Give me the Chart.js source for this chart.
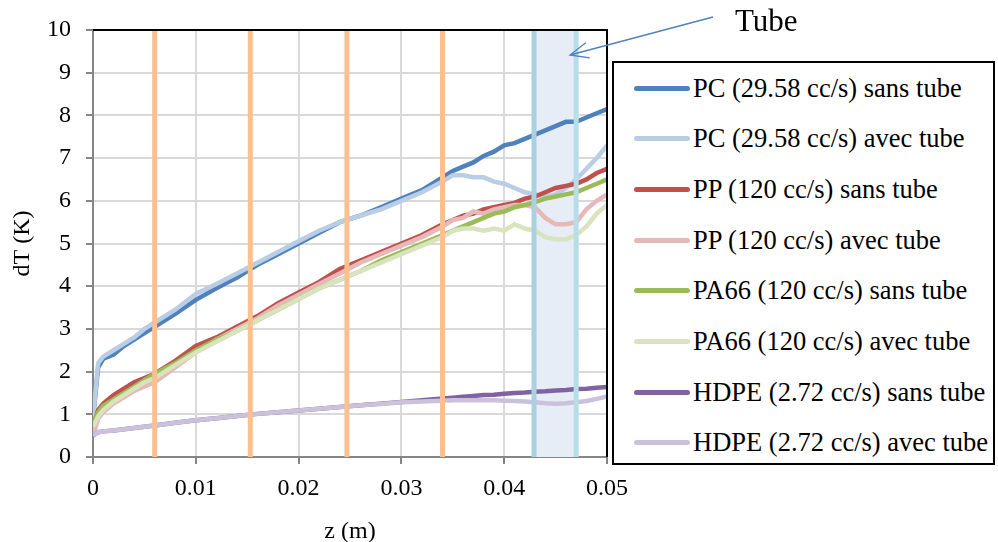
<!DOCTYPE html>
<html>
<head>
<meta charset="utf-8">
<script src="https://cdn.jsdelivr.net/npm/chart.js@4.4.1/dist/chart.umd.min.js"></script>
<style>
  html, body { margin: 0; padding: 0; background: #fff; }
  #wrap { position: relative; width: 998px; height: 542px; }
  #legend {
    position: absolute; left: 612px; top: 61px; width: 383px; height: 404px;
    border: 2px solid #000; box-sizing: border-box; background: #fff;
    font-family: "Liberation Serif", "Times New Roman", serif; font-size: 26.5px; color: #000;
  }
  .item { position: absolute; left: 20px; height: 32px; display: flex; align-items: center; white-space: nowrap; }
  .swatch { width: 56px; height: 5px; border-radius: 2.5px; margin-right: 3px; }
</style>
</head>
<body>
<div id="wrap">
  <canvas id="c" width="998" height="542"></canvas>
  <div id="legend"></div>
</div>
<script>
const zValues = [0, 0.0005, 0.001, 0.002, 0.003, 0.004, 0.005, 0.006, 0.008, 0.010, 0.012, 0.014, 0.016, 0.018, 0.020,
  0.022, 0.024, 0.026, 0.028, 0.030, 0.032, 0.034, 0.035, 0.036, 0.037, 0.038, 0.039, 0.040, 0.041, 0.042, 0.043,
  0.044, 0.045, 0.046, 0.047, 0.048, 0.049, 0.050];

const pcSans = [0.9, 2.1, 2.3, 2.4, 2.6, 2.75, 2.9, 3.05, 3.35, 3.68, 3.95, 4.2, 4.5, 4.75, 5.0,
  5.25, 5.5, 5.65, 5.85, 6.05, 6.25, 6.55, 6.7, 6.8, 6.9, 7.05, 7.15, 7.3, 7.35, 7.45, 7.55,
  7.65, 7.75, 7.85, 7.85, 7.95, 8.05, 8.15];
const pcAvec = [0.9, 2.2, 2.35, 2.5, 2.65, 2.8, 3.0, 3.15, 3.45, 3.82, 4.05, 4.3, 4.55, 4.8, 5.05,
  5.3, 5.5, 5.65, 5.8, 6.0, 6.2, 6.45, 6.6, 6.6, 6.55, 6.55, 6.45, 6.4, 6.3, 6.2, 6.15,
  6.1, 6.15, 6.3, 6.5, 6.75, 7.0, 7.3];
const ppSans = [0.7, 1.1, 1.25, 1.45, 1.6, 1.75, 1.85, 1.95, 2.25, 2.6, 2.8, 3.05, 3.3, 3.6, 3.85,
  4.1, 4.4, 4.6, 4.8, 5.0, 5.2, 5.45, 5.55, 5.65, 5.7, 5.8, 5.85, 5.9, 5.95, 6.05, 6.1,
  6.2, 6.3, 6.35, 6.4, 6.5, 6.65, 6.75];
const ppAvec = [0.5, 0.9, 1.05, 1.25, 1.4, 1.55, 1.65, 1.75, 2.1, 2.45, 2.75, 3.0, 3.25, 3.55, 3.8,
  4.05, 4.3, 4.55, 4.75, 4.95, 5.15, 5.4, 5.55, 5.6, 5.75, 5.7, 5.8, 5.85, 5.9, 5.9, 5.85,
  5.6, 5.45, 5.45, 5.5, 5.8, 6.0, 6.15];
const pa66Sans = [0.8, 1.05, 1.2, 1.35, 1.5, 1.65, 1.8, 1.95, 2.2, 2.5, 2.75, 2.95, 3.2, 3.45, 3.7,
  3.95, 4.15, 4.35, 4.6, 4.8, 5.0, 5.2, 5.3, 5.4, 5.5, 5.6, 5.7, 5.75, 5.85, 5.9, 5.97,
  6.05, 6.1, 6.15, 6.2, 6.3, 6.4, 6.5];
const pa66Avec = [0.7, 0.95, 1.1, 1.3, 1.45, 1.6, 1.75, 1.85, 2.15, 2.45, 2.7, 2.95, 3.2, 3.45, 3.7,
  3.95, 4.15, 4.35, 4.55, 4.75, 4.95, 5.15, 5.3, 5.35, 5.35, 5.3, 5.35, 5.3, 5.45, 5.35, 5.3,
  5.15, 5.1, 5.1, 5.2, 5.4, 5.7, 5.9];
const hdpeSans = [0.5, 0.58, 0.6, 0.62, 0.65, 0.68, 0.71, 0.74, 0.8, 0.86, 0.91, 0.96, 1.01, 1.05, 1.09,
  1.13, 1.17, 1.21, 1.25, 1.29, 1.33, 1.37, 1.39, 1.41, 1.43, 1.45, 1.46, 1.48, 1.5, 1.51, 1.53,
  1.54, 1.56, 1.57, 1.59, 1.6, 1.62, 1.64];
const hdpeAvec = [0.5, 0.58, 0.6, 0.62, 0.65, 0.68, 0.71, 0.74, 0.8, 0.86, 0.91, 0.96, 1.01, 1.05, 1.09,
  1.13, 1.17, 1.21, 1.24, 1.28, 1.3, 1.32, 1.33, 1.33, 1.33, 1.33, 1.33, 1.32, 1.31, 1.3, 1.28,
  1.26, 1.25, 1.26, 1.28, 1.31, 1.36, 1.42];

const seriesLabels = ['PC (29.58 cc/s) sans tube', 'PC (29.58 cc/s) avec tube', 'PP (120 cc/s) sans tube',
  'PP (120 cc/s) avec tube', 'PA66 (120 cc/s) sans tube', 'PA66 (120 cc/s) avec tube',
  'HDPE (2.72 cc/s) sans tube', 'HDPE (2.72 cc/s) avec tube'];
const seriesData = [pcSans, pcAvec, ppSans, ppAvec, pa66Sans, pa66Avec, hdpeSans, hdpeAvec];
const seriesColors = ['#4f81bd', '#b9cde5', '#c0504d', '#e6b9b8', '#9bbb59', '#d7e4bd', '#8064a2', '#ccc1da'];

// vertical markers and tube zone
const orangeLines = [0.006, 0.0153, 0.0247, 0.034];
const tubeStart = 0.0429;
const tubeEnd = 0.047;
const xTicks = [0, 0.01, 0.02, 0.03, 0.04, 0.05];
const yTicks = [0, 1, 2, 3, 4, 5, 6, 7, 8, 9, 10];

const FONT = '"Liberation Serif", "Times New Roman", serif';

const datasets = [];
// tube zone shading (behind everything)
datasets.push({
  data: [{ x: tubeStart, y: 10 }, { x: tubeEnd, y: 10 }],
  borderWidth: 0, pointRadius: 0, fill: 'origin',
  backgroundColor: '#e7edf6', order: 100
});
seriesData.forEach((vals, i) => {
  datasets.push({
    label: seriesLabels[i],
    data: vals.map((v, j) => ({ x: zValues[j], y: v })),
    borderColor: seriesColors[i],
    borderWidth: 4.5,
    pointRadius: 0,
    tension: 0,
    fill: false,
    order: 50 - i
  });
});
orangeLines.forEach(z => {
  datasets.push({
    data: [{ x: z, y: 0 }, { x: z, y: 10 }],
    borderColor: '#fac090', borderWidth: 5, pointRadius: 0, order: 1
  });
});
datasets.push({ data: [{ x: tubeStart, y: 0 }, { x: tubeStart, y: 10 }], borderColor: '#a9d1e1', borderWidth: 5, pointRadius: 0, order: 0 });
datasets.push({ data: [{ x: tubeEnd, y: 0 }, { x: tubeEnd, y: 10 }], borderColor: '#b7dee8', borderWidth: 5, pointRadius: 0, order: 0 });

const extras = {
  id: 'extras',
  afterDraw(chart) {
    const ctx = chart.ctx;
    const a = chart.chartArea;
    ctx.save();
    // plot border top/right
    ctx.strokeStyle = '#000';
    ctx.lineWidth = 2;
    ctx.beginPath();
    ctx.moveTo(a.left, a.top);
    ctx.lineTo(a.right, a.top);
    ctx.lineTo(a.right, a.bottom);
    ctx.stroke();
    // arrow to tube
    const x1 = 713, y1 = 17, x2 = 570, y2 = 55;
    ctx.strokeStyle = '#4f81bd';
    ctx.lineWidth = 1.3;
    ctx.beginPath();
    ctx.moveTo(x1, y1);
    ctx.lineTo(x2, y2);
    const ang = Math.atan2(y2 - y1, x2 - x1);
    ctx.moveTo(x2 + 20 * Math.cos(ang + Math.PI - 0.4), y2 + 20 * Math.sin(ang + Math.PI - 0.4));
    ctx.lineTo(x2, y2);
    ctx.lineTo(x2 + 20 * Math.cos(ang + Math.PI + 0.4), y2 + 20 * Math.sin(ang + Math.PI + 0.4));
    ctx.stroke();
    ctx.fillStyle = '#000';
    ctx.font = '31px ' + FONT;
    ctx.textBaseline = 'middle';
    ctx.fillText('Tube', 735, 23);
    ctx.restore();
  }
};

new Chart(document.getElementById('c'), {
  type: 'line',
  data: { datasets },
  options: {
    responsive: false,
    animation: false,
    layout: { padding: { left: 0, top: 30, right: 391, bottom: 0 } },
    plugins: { legend: { display: false }, tooltip: { enabled: false } },
    scales: {
      x: {
        type: 'linear', min: 0, max: 0.05,
        afterBuildTicks: s => { s.ticks = xTicks.map(v => ({ value: v })); },
        afterFit: s => { s.height = 85; },
        ticks: {
          color: '#000', font: { family: FONT, size: 24 }, padding: 10, maxRotation: 0,
          callback: v => String(+v.toFixed(2))
        },
        grid: { color: '#d9d9d9', lineWidth: 2, tickLength: 7, tickColor: '#868686' },
        border: { color: '#868686', width: 2 },
        title: { display: true, text: 'z (m)', color: '#000', font: { family: FONT, size: 24 }, padding: { top: 0, bottom: -4 } }
      },
      y: {
        min: 0, max: 10,
        afterBuildTicks: s => { s.ticks = yTicks.map(v => ({ value: v })); },
        afterFit: s => { s.width = 93; },
        ticks: { color: '#000', font: { family: FONT, size: 24 }, padding: 15 },
        grid: { color: '#d9d9d9', lineWidth: 2, tickLength: 7, tickColor: '#868686' },
        border: { color: '#868686', width: 2 },
        title: { display: true, text: 'dT (K)', color: '#000', font: { family: FONT, size: 24 }, padding: { top: 8, bottom: 0 } }
      }
    }
  },
  plugins: [extras]
});

// legend box
const legendEl = document.getElementById('legend');
seriesLabels.forEach((label, i) => {
  const item = document.createElement('div');
  item.className = 'item';
  item.style.top = (9 + i * 50.7) + 'px';
  const sw = document.createElement('div');
  sw.className = 'swatch';
  sw.style.background = seriesColors[i];
  const tx = document.createElement('span');
  tx.textContent = label;
  item.appendChild(sw);
  item.appendChild(tx);
  legendEl.appendChild(item);
});
</script>
</body>
</html>
